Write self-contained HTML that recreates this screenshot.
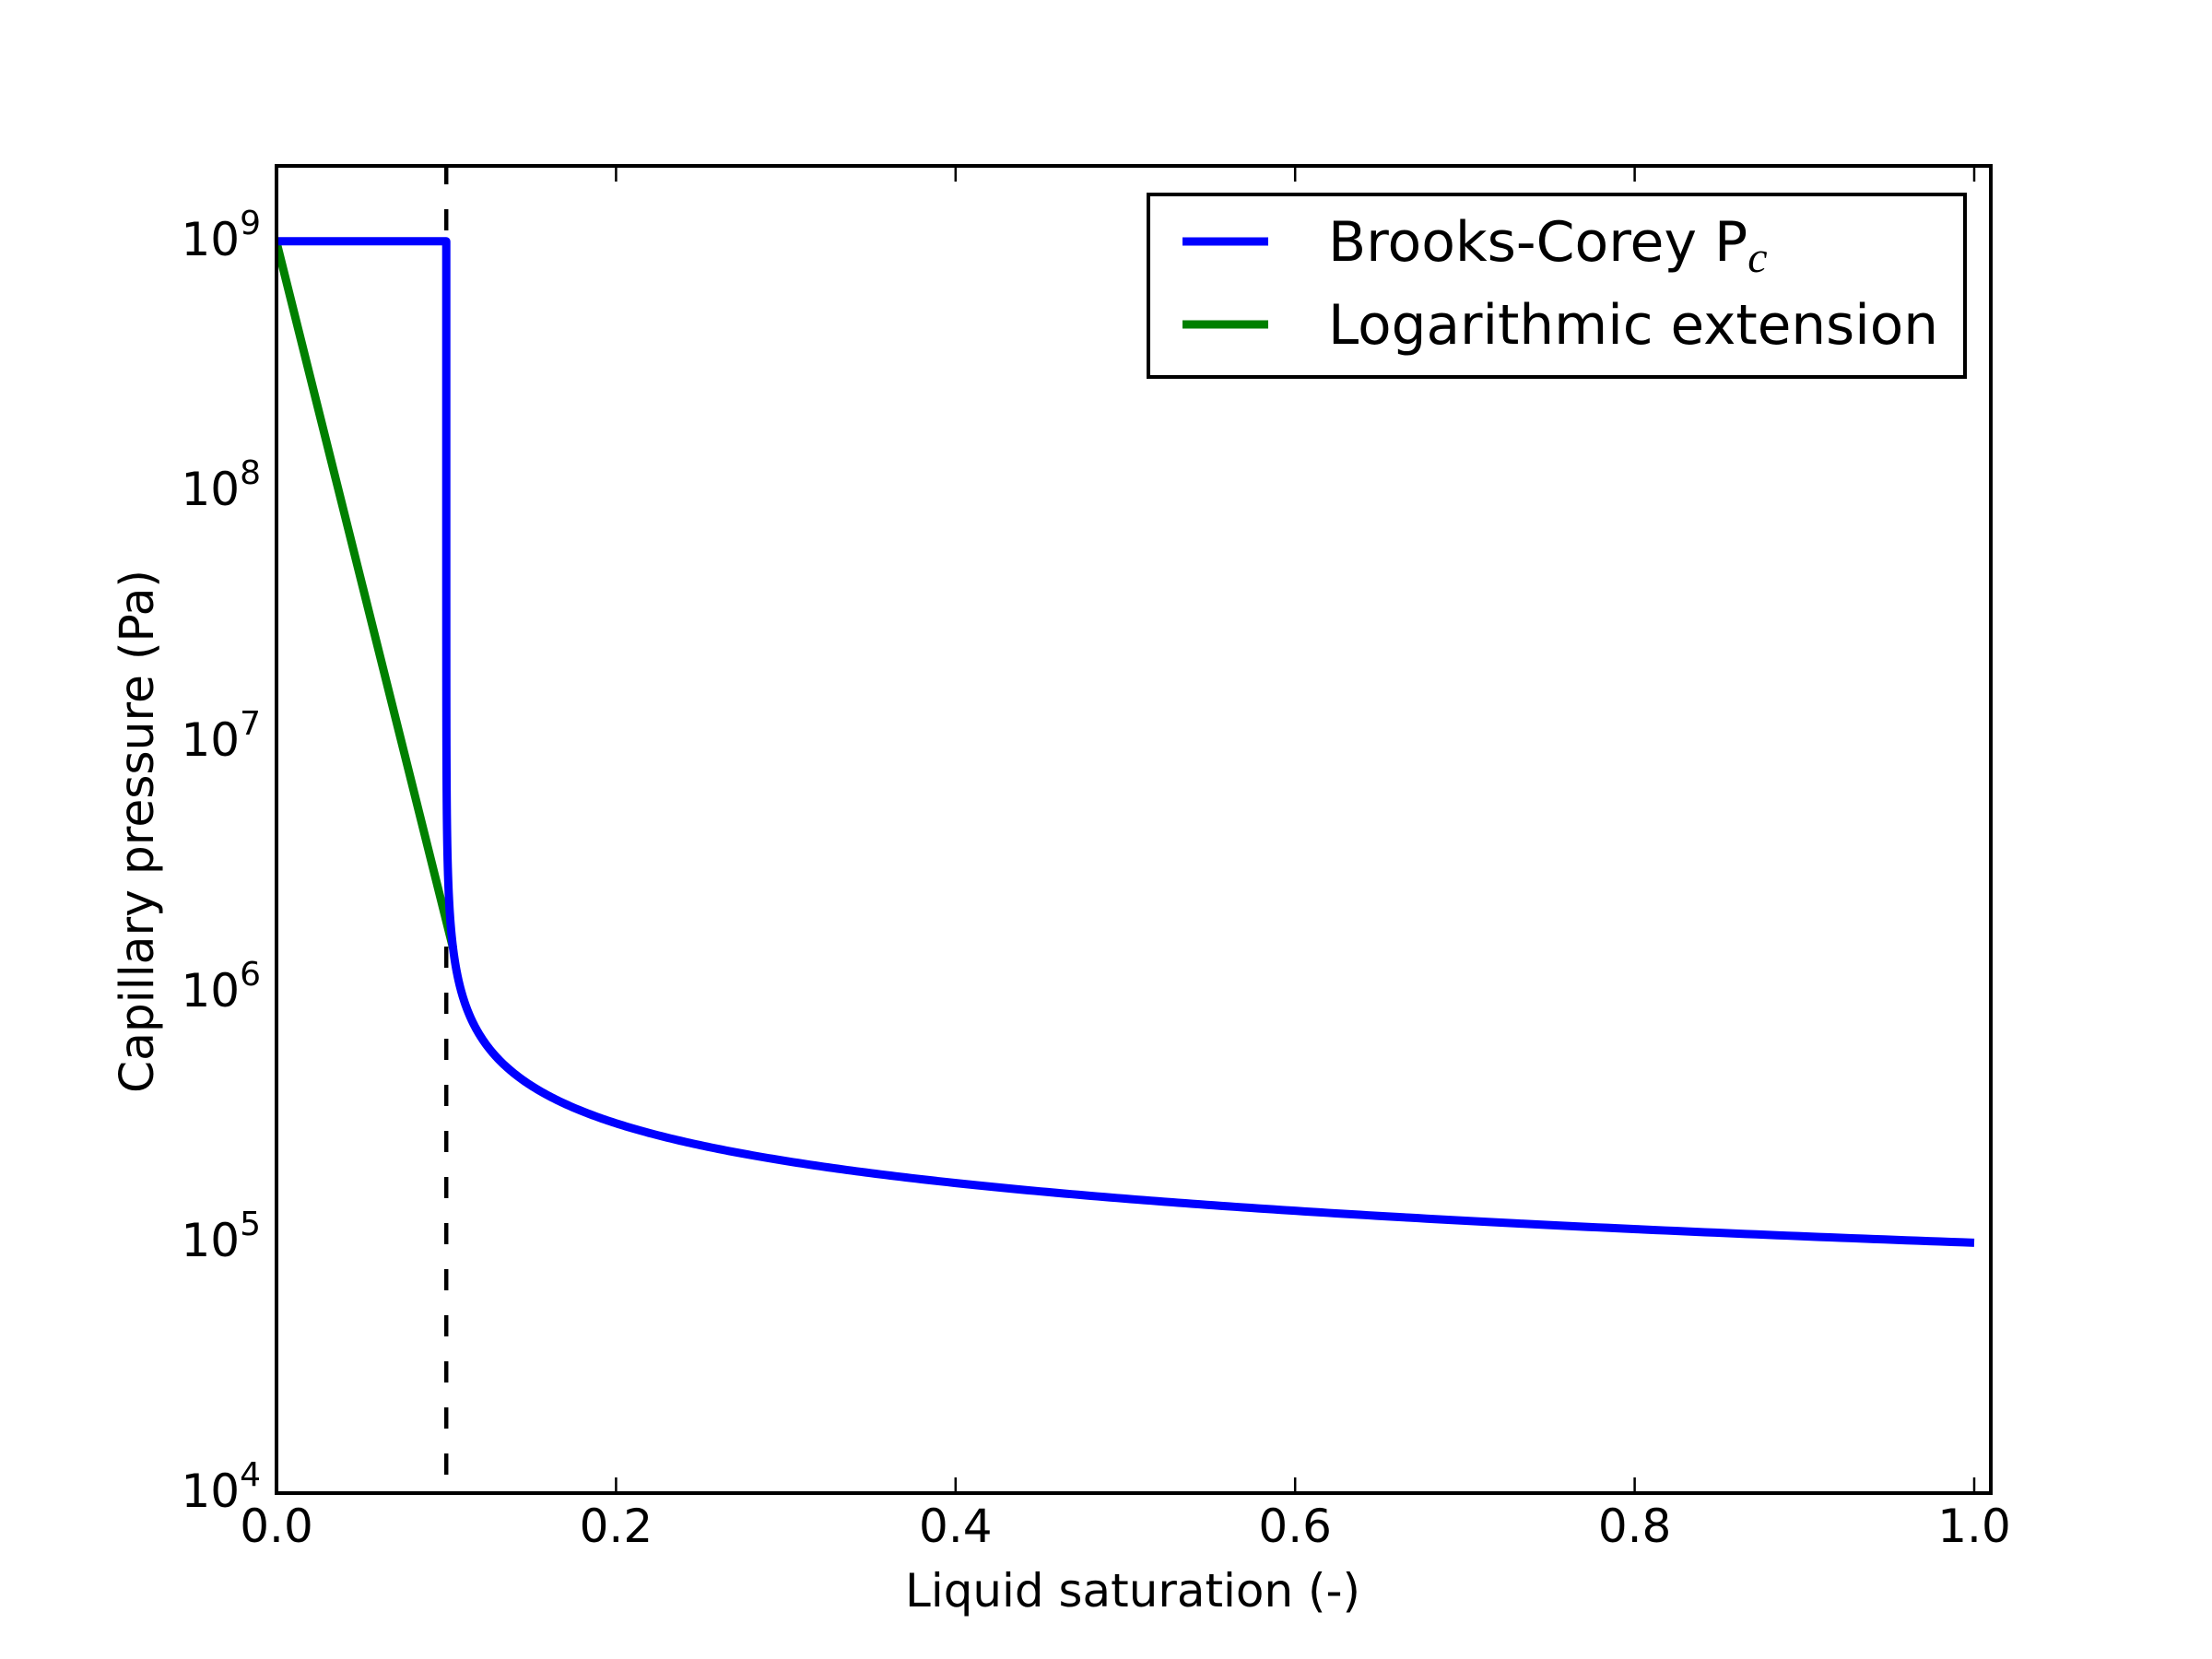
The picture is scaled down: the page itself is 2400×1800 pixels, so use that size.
<!DOCTYPE html>
<html><head><meta charset="utf-8"><style>
html,body{margin:0;padding:0;background:#fff;}
svg{display:block;}
text{font-family:"DejaVu Sans","Liberation Sans",sans-serif;fill:#000;}
</style></head><body>
<svg width="2400" height="1800" viewBox="0 0 2400 1800" xmlns="http://www.w3.org/2000/svg">
<rect width="2400" height="1800" fill="#fff"/>
<defs><clipPath id="c"><rect x="300" y="180" width="1860" height="1440"/></clipPath></defs>
<g clip-path="url(#c)">
<line x1="484.2" y1="180" x2="484.2" y2="1620" stroke="#000" stroke-width="4.5" stroke-dasharray="23 27" stroke-dashoffset="3"/>
<polyline fill="none" stroke="#008000" stroke-width="9" stroke-linejoin="round" points="300,262.7 491.6,1028.9"/>
<polyline id="bc" fill="none" stroke="#0000ff" stroke-width="9" stroke-linejoin="round" points=""/>
</g>
<g stroke="#000" stroke-width="2.5">
<line x1="300" y1="1620" x2="300" y2="1603"/><line x1="300" y1="180" x2="300" y2="197"/>
<line x1="668.4" y1="1620" x2="668.4" y2="1603"/><line x1="668.4" y1="180" x2="668.4" y2="197"/>
<line x1="1036.8" y1="1620" x2="1036.8" y2="1603"/><line x1="1036.8" y1="180" x2="1036.8" y2="197"/>
<line x1="1405.2" y1="1620" x2="1405.2" y2="1603"/><line x1="1405.2" y1="180" x2="1405.2" y2="197"/>
<line x1="1773.6" y1="1620" x2="1773.6" y2="1603"/><line x1="1773.6" y1="180" x2="1773.6" y2="197"/>
<line x1="2142" y1="1620" x2="2142" y2="1603"/><line x1="2142" y1="180" x2="2142" y2="197"/>
</g>
<g id="yt" stroke="#000" stroke-width="2.5"></g>
<rect x="300" y="180" width="1860" height="1440" fill="none" stroke="#000" stroke-width="4"/>
<g font-size="50" text-anchor="middle">
<text x="300" y="1673">0.0</text><text x="668.4" y="1673">0.2</text><text x="1036.8" y="1673">0.4</text>
<text x="1405.2" y="1673">0.6</text><text x="1773.6" y="1673">0.8</text><text x="2142" y="1673">1.0</text>
</g>
<g font-size="50" text-anchor="end">
<text x="283" y="1635">10<tspan font-size="36" dy="-23">4</tspan></text>
<text x="283" y="1363">10<tspan font-size="36" dy="-23">5</tspan></text>
<text x="283" y="1092">10<tspan font-size="36" dy="-23">6</tspan></text>
<text x="283" y="820">10<tspan font-size="36" dy="-23">7</tspan></text>
<text x="283" y="548">10<tspan font-size="36" dy="-23">8</tspan></text>
<text x="283" y="277">10<tspan font-size="36" dy="-23">9</tspan></text>
</g>
<text x="1229" y="1743" font-size="50" text-anchor="middle" textLength="494" lengthAdjust="spacingAndGlyphs">Liquid saturation (-)</text>
<text transform="translate(166,902) rotate(-90)" font-size="51" text-anchor="middle" textLength="568" lengthAdjust="spacingAndGlyphs">Capillary pressure (Pa)</text>
<rect x="1246" y="211" width="886" height="198" fill="#fff" stroke="#000" stroke-width="4"/>
<line x1="1283" y1="262" x2="1376" y2="262" stroke="#0000ff" stroke-width="9"/>
<line x1="1283" y1="352" x2="1376" y2="352" stroke="#008000" stroke-width="9"/>
<text x="1441" y="283" font-size="60">Brooks-Corey P<tspan font-family="Liberation Serif,serif" font-style="italic" font-size="48" dy="12">c</tspan></text>
<text x="1441" y="373" font-size="60" textLength="662" lengthAdjust="spacingAndGlyphs">Logarithmic extension</text>
<script>
var g=document.getElementById('yt'),s='';
for(var d=4;d<=9;d++){for(var m=1;m<10;m++){var v=d+Math.log10(m);var y=180+(9.30103-v)*271.65;if(y<180||y>1620)continue;var L=(m==1)?17:8;
s+='<line x1="300" y1="'+y+'" x2="'+(300+L)+'" y2="'+y+'"/><line x1="2160" y1="'+y+'" x2="'+(2160-L)+'" y2="'+y+'"/>';}}
g.innerHTML=s;
function X(S){return 300+S*1842;}
function Y(P){return 180+(9.30103-Math.log10(P))*271.65;}
var p=[[X(0),Y(1e9)],[X(0.0998),Y(1e9)],[X(0.1),Y(1e9)]];
for(var i=0;i<=400;i++){var S=0.1+0.9*Math.pow(i/400,3)+1e-6;if(S>1)S=1;var Se=(S-0.1)/0.9;var P=Math.min(1e9,1e5/Math.sqrt(Se));p.push([X(S),Y(P)]);}
document.getElementById('bc').setAttribute('points',p.map(function(a){return a[0].toFixed(2)+','+a[1].toFixed(2);}).join(' '));
</script>
</svg>
</body></html>
